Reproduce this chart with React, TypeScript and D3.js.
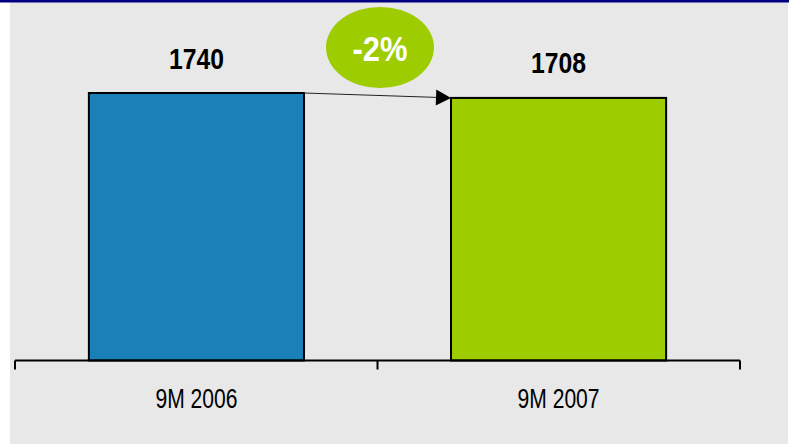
import React from "react";
import * as d3 from "d3";

const categories = ["9M 2006", "9M 2007"];
const values = [1740, 1708];
const barColors = ["#1a80b8", "#9dcc00"];
const changeLabel = "-2%";

const W = 789, H = 445;
const margin = { l: 15, r: 49, t: 93, b: 84.5 };

export default function App() {
  const x = d3.scaleBand<string>().domain(categories).range([margin.l, W - margin.r]).paddingInner(0.406).paddingOuter(0.204);
  const y = d3.scaleLinear().domain([0, d3.max(values) as number]).range([H - margin.b, margin.t]);
  const base = y(0);
  const bw = x.bandwidth();
  // ticks sit at the band boundaries
  const ticks = d3.range(categories.length + 1).map(i => margin.l + i * (W - margin.r - margin.l) / categories.length);

  const x0 = (x(categories[0]) as number) + bw;
  const y0 = y(values[0]);
  const x1 = x(categories[1]) as number;
  const y1 = y(values[1]);
  const ang = Math.atan2(y1 - y0, x1 - x0) * 180 / Math.PI;

  return (
    <svg width={W} height={H} style={{ position: "absolute", left: 0, top: 0, fontFamily: "'Liberation Sans', Arial, sans-serif" }}>
      <rect x={0} y={0} width={W} height={H} fill="#ffffff" />
      <rect x={10} y={0} width={W - 11} height={H - 1} fill="#e8e8e8" />
      <rect x={0} y={0} width={W} height={2.5} fill="#000080" />

      {categories.map((c, i) => (
        <g key={c}>
          <rect x={x(c)} y={y(values[i])} width={bw} height={base - y(values[i])} fill={barColors[i]} stroke="#000" strokeWidth={2} />
          <text x={(x(c) as number) + bw / 2} y={y(values[i]) - 24.5} textAnchor="middle" fontWeight="bold" fontSize={30} fill="#000" textLength={55} lengthAdjust="spacingAndGlyphs">{values[i]}</text>
          <text x={(x(c) as number) + bw / 2} y={408} textAnchor="middle" fontSize={28} fill="#000" textLength={82} lengthAdjust="spacingAndGlyphs">{c}</text>
        </g>
      ))}

      <line x1={ticks[0]} x2={ticks[ticks.length - 1]} y1={base} y2={base} stroke="#000" strokeWidth={2} />
      {ticks.map((t, i) => (
        <line key={i} x1={t} x2={t} y1={base} y2={base + 9} stroke="#000" strokeWidth={2} />
      ))}

      <line x1={x0} y1={y0} x2={x1 - 14} y2={y1 - 0.5} stroke="#222" strokeWidth={1} />
      <path d="M0,0 L-15,-8 L-15,8 Z" transform={`translate(${x1},${y1}) rotate(${ang})`} fill="#000" />

      <ellipse cx={380} cy={47.5} rx={54} ry={40.5} fill="#9dcc00" />
      <text x={380} y={61} textAnchor="middle" fontWeight="bold" fontSize={35} fill="#fff" textLength={55} lengthAdjust="spacingAndGlyphs">{changeLabel}</text>
    </svg>
  );
}
